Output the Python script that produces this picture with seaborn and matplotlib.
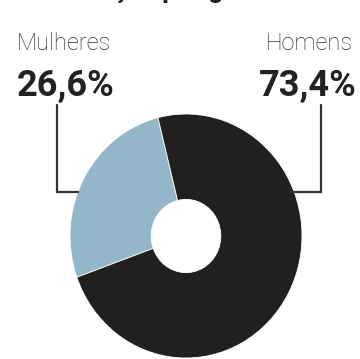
import matplotlib
matplotlib.use("Agg")
import matplotlib.pyplot as plt
from matplotlib.lines import Line2D
import seaborn as sns

categories = ["Mulheres", "Homens"]
values = [26.6, 73.4]
labels = ["26,6%", "73,4%"]
colors = ["#93b7c9", "#221f1f"]
title = "Distribuição por gênero"

sns.set_theme(style="white")
plt.rcParams['font.family'] = ['Roboto', 'DejaVu Sans']

W, H = 360, 359
fig = plt.figure(figsize=(W / 100, H / 100), dpi=100)
fig.patch.set_facecolor("white")

def fx(x):
    return x / W

def fy(y):
    return 1 - y / H

cx, cy, rx, ry = 186, 236, 116, 122
ax = fig.add_axes([fx(cx - rx), fy(cy + ry), 2 * rx / W, 2 * ry / H])
ax.pie(values, colors=colors, startangle=104, counterclock=True,
       wedgeprops=dict(width=0.70, edgecolor="white", linewidth=0.6))
ax.set_aspect("auto")
ax.set_xlim(-1, 1)
ax.set_ylim(-1, 1)
ax.axis("off")

# title, mostly cut off at the top edge as in the reference
fig.text(fx(152), fy(-2), title, ha="center", va="baseline",
         fontsize=19, fontweight="bold", color="#222222")

fig.text(fx(17), fy(50), categories[0], ha="left", va="baseline",
         fontsize=17, fontweight="light", color="#2e2e2e")
fig.text(fx(353), fy(50), categories[1], ha="right", va="baseline",
         fontsize=17, fontweight="light", color="#2e2e2e")
fig.text(fx(17), fy(96), labels[0], ha="left", va="baseline",
         fontsize=26, fontweight="bold", color="#222222")
fig.text(fx(357), fy(96), labels[1], ha="right", va="baseline",
         fontsize=26, fontweight="bold", color="#222222")

lc = "#333333"
fig.add_artist(Line2D([fx(57), fx(57), fx(78)], [fy(105), fy(192), fy(192)],
                      color=lc, linewidth=1.6, solid_joinstyle="miter"))
fig.add_artist(Line2D([fx(321), fx(321), fx(290)], [fy(105), fy(192), fy(192)],
                      color=lc, linewidth=1.6, solid_joinstyle="miter"))

fig.savefig("out.png", dpi=100, facecolor="white")
